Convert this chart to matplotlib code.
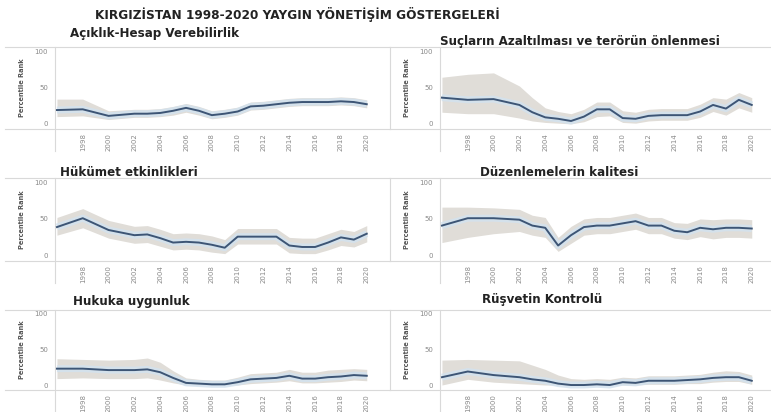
import matplotlib
matplotlib.use("Agg")
import matplotlib.pyplot as plt
import numpy as np

plt.rcParams['font.family'] = ['DejaVu Sans']

years = [1996, 1998, 2000, 2002, 2003, 2004, 2005, 2006, 2007, 2008, 2009,
         2010, 2011, 2012, 2013, 2014, 2015, 2016, 2017, 2018, 2019, 2020]
tick_years = list(range(1998, 2021, 2))

main_title = "KIRGIZİSTAN 1998-2020 YAYGIN YÖNETİŞİM GÖSTERGELERİ"
y_label = "Percentile Rank"

titles = [
    "Açıklık-Hesap Verebilirlik",
    "Suçların Azaltılması ve terörün önlenmesi",
    "Hükümet etkinlikleri",
    "Düzenlemelerin kalitesi",
    "Hukuka uygunluk",
    "Rüşvetin Kontrolü",
]

# Voice and accountability
va_rank = [19, 20, 11, 14, 14, 15, 18, 22, 18, 12, 14, 17, 24, 25, 27, 29, 30, 30, 30, 31, 30, 27]
va_upper = [34, 34, 18, 20, 20, 21, 24, 28, 24, 18, 20, 23, 30, 31, 33, 35, 36, 36, 36, 37, 36, 33]
va_lower = [10, 11, 6, 9, 9, 10, 12, 16, 12, 7, 9, 12, 19, 20, 22, 24, 25, 25, 25, 26, 25, 22]

# Political stability / absence of violence
ps_rank = [36, 33, 34, 26, 16, 9, 7, 4, 10, 20, 20, 8, 7, 11, 12, 12, 12, 17, 26, 21, 33, 26]
ps_upper = [64, 68, 70, 52, 36, 22, 17, 14, 20, 30, 30, 18, 16, 20, 21, 21, 21, 27, 36, 34, 43, 36]
ps_lower = [16, 14, 14, 8, 4, 2, 1, 0, 3, 10, 11, 2, 1, 4, 5, 5, 5, 9, 17, 12, 22, 16]

# Government effectiveness
ge_rank = [39, 51, 35, 28, 29, 24, 18, 19, 18, 15, 11, 26, 26, 26, 26, 14, 12, 12, 18, 25, 22, 30]
ge_upper = [52, 64, 48, 40, 41, 36, 30, 31, 30, 27, 22, 37, 37, 37, 37, 25, 24, 24, 30, 36, 33, 41]
ge_lower = [28, 38, 24, 17, 18, 13, 8, 9, 8, 5, 3, 16, 16, 16, 16, 4, 3, 3, 8, 14, 12, 19]

# Regulatory quality
rq_rank = [41, 51, 51, 49, 41, 38, 14, 28, 39, 41, 41, 44, 47, 41, 41, 34, 32, 38, 36, 38, 38, 37]
rq_upper = [66, 66, 65, 63, 55, 52, 25, 40, 50, 52, 52, 55, 58, 52, 52, 45, 44, 50, 49, 50, 50, 49]
rq_lower = [18, 25, 30, 33, 28, 25, 6, 17, 28, 30, 30, 33, 36, 30, 30, 24, 22, 26, 23, 25, 25, 24]

# Rule of law
rl_rank = [23, 23, 21, 21, 22, 18, 10, 3, 2, 1, 1, 4, 8, 9, 10, 13, 9, 9, 11, 12, 14, 13]
rl_upper = [37, 36, 35, 36, 38, 32, 20, 10, 8, 7, 7, 11, 16, 17, 18, 22, 18, 18, 21, 22, 23, 22]
rl_lower = [9, 10, 9, 9, 10, 7, 3, 0, 0, 0, 0, 0, 2, 3, 4, 6, 3, 3, 4, 5, 7, 6]

# Control of corruption
cc_rank = [11, 19, 14, 11, 8, 6, 2, 0, 0, 1, 0, 4, 3, 6, 6, 6, 7, 8, 10, 11, 11, 6]
cc_upper = [35, 36, 35, 34, 28, 22, 14, 9, 8, 9, 8, 11, 10, 13, 13, 13, 14, 15, 18, 20, 19, 14]
cc_lower = [0, 8, 4, 2, 1, 0, 0, 0, 0, 0, 0, 0, 0, 1, 1, 1, 2, 2, 4, 5, 5, 1]

panels = [
    (va_rank, va_lower, va_upper),
    (ps_rank, ps_lower, ps_upper),
    (ge_rank, ge_lower, ge_upper),
    (rq_rank, rq_lower, rq_upper),
    (rl_rank, rl_lower, rl_upper),
    (cc_rank, cc_lower, cc_upper),
]

W, H = 771, 412
fig = plt.figure(figsize=(W / 100, H / 100), dpi=100)

# axes boxes in pixels: (left, right) per column, (top, bottom) per row
col_x = [(55, 390), (440, 775)]
row_y = [(47, 129), (178, 261), (310, 390)]
title_pos = [(70, 34), (440, 41), (60, 172), (480, 172), (73, 302), (482, 300)]

frame_col = "#d9d9d9"
line_col = "#3d5575"
band_col = "#e0ddd8"
halo_col = "#d3e2ef"
text_col = "#8a8a8a"

fig.text(95 / W, 1 - 15 / H, main_title, fontsize=8.7, fontweight="bold",
         color="#222222", ha="left", va="center")

for i, (rank, lo, hi) in enumerate(panels):
    r, c = divmod(i, 2)
    x0, x1 = col_x[c]
    y0, y1 = row_y[r]
    ax = fig.add_axes([x0 / W, 1 - y1 / H, (x1 - x0) / W, (y1 - y0) / H])
    ax.set_xlim(1995.85, 2021.8)
    ax.set_ylim(-7, 105.5)

    ax.fill_between(years, lo, hi, color=band_col, linewidth=0, zorder=1)
    ax.plot(years, rank, color=halo_col, linewidth=5, alpha=0.85,
            solid_capstyle="butt", zorder=2)
    ax.plot(years, rank, color=line_col, linewidth=1.4, zorder=3)

    ax.set_yticks([0, 50, 100])
    ax.set_yticklabels(["0", "50", "100"])
    ax.set_xticks(tick_years)
    ax.set_xticklabels([str(y) for y in tick_years], rotation=90)
    ax.tick_params(axis="both", length=0, labelsize=5, labelcolor=text_col)
    ax.tick_params(axis="y", pad=5)
    ax.tick_params(axis="x", pad=3)

    for side in ("top", "bottom", "left"):
        ax.spines[side].set_visible(False)
    ax.spines["right"].set_color(frame_col)
    ax.spines["right"].set_linewidth(0.8)

    # frame lines, extended past the plotting area on the left and below
    ext = -50 / (x1 - x0)
    for yy in (0, 1):
        ax.plot([ext, 1], [yy, yy], transform=ax.transAxes, color=frame_col,
                linewidth=0.8, clip_on=False, zorder=0)
    ax.plot([0, 0], [1, -22 / (y1 - y0)], transform=ax.transAxes,
            color=frame_col, linewidth=0.8, clip_on=False, zorder=0)

    ax.text(-33 / (x1 - x0), 0.5, y_label, transform=ax.transAxes,
            rotation=90, ha="center", va="center", fontsize=4.8,
            fontweight="bold", color="#555555")

    tx, ty = title_pos[i]
    fig.text(tx / W, 1 - ty / H, titles[i], fontsize=8.6, fontweight="bold",
             color="#222222", ha="left", va="center")

fig.savefig("out.png", dpi=100)
